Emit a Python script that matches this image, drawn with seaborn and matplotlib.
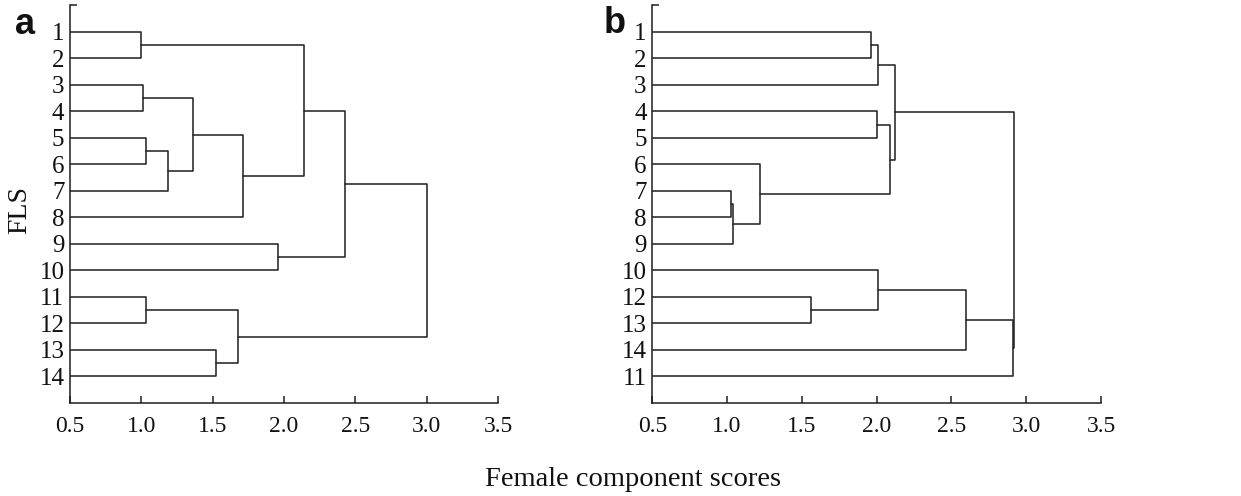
import numpy as np
import pandas as pd
import seaborn as sns
import matplotlib.pyplot as plt

# leaf labels, top to bottom
a_labels = ['1', '2', '3', '4', '5', '6', '7', '8', '9', '10', '11', '12', '13', '14']
b_labels = ['1', '2', '3', '4', '5', '6', '7', '8', '9', '10', '12', '13', '14', '11']

# merges: (child 1, child 2, height); leaves are 0..13, merge k is node 14+k
a_left = [0, 2, 4, 16, 15, 18, 14, 8, 20, 10, 12, 23, 22]
a_right = [1, 3, 5, 6, 17, 7, 19, 9, 21, 11, 13, 24, 25]
a_height = [1.00, 1.01, 1.03, 1.19, 1.36, 1.71, 2.14, 1.955, 2.43, 1.03, 1.52, 1.68, 3.00]

b_left = [0, 14, 3, 6, 17, 5, 16, 15, 10, 9, 23, 24, 21]
b_right = [1, 2, 4, 7, 8, 18, 19, 20, 11, 22, 12, 13, 25]
b_height = [1.96, 2.01, 2.00, 1.025, 1.04, 1.22, 2.09, 2.12, 1.56, 2.01, 2.60, 2.91, 2.92]

x_ticks = [0.5, 1.0, 1.5, 2.0, 2.5, 3.0, 3.5]
leaf_x = 0.5


def dendro_frame(n, left, right, height):
    # position of every node: (x = height, y = row)
    pos_x = {i: leaf_x for i in range(n)}
    pos_y = {i: i + 1.0 for i in range(n)}
    rows = []
    for k, (c1, c2, h) in enumerate(zip(left, right, height)):
        pts = [(pos_x[c1], pos_y[c1]), (h, pos_y[c1]), (h, pos_y[c2]), (pos_x[c2], pos_y[c2])]
        for j, (x, y) in enumerate(pts):
            rows.append({'seg': k, 'order': j, 'x': x, 'y': y})
        pos_x[n + k] = h
        pos_y[n + k] = (pos_y[c1] + pos_y[c2]) / 2
    return pd.DataFrame(rows)


sns.set_theme(style='ticks')
plt.rcParams['font.family'] = ['Liberation Serif', 'DejaVu Serif']

fig = plt.figure(figsize=(12.41, 4.96), dpi=100)
ax_a = fig.add_axes([0.0564, 0.1875, 0.3449, 0.8015])
ax_b = fig.add_axes([0.5256, 0.1875, 0.3616, 0.8015])

line_col = '#1e1e1e'
for ax, labels, left, right, height in [(ax_a, a_labels, a_left, a_right, a_height),
                                         (ax_b, b_labels, b_left, b_right, b_height)]:
    df = dendro_frame(len(labels), left, right, height)
    sns.lineplot(data=df, x='x', y='y', units='seg', estimator=None, sort=False,
                 color=line_col, linewidth=1.1, ax=ax)
    ax.set_xlim(0.5, 3.5)
    ax.set_ylim(15, 0)
    ax.set_xticks(x_ticks)
    ax.set_xticklabels([f'{t:.1f}' for t in x_ticks], fontsize=17)
    ax.set_yticks(range(1, len(labels) + 1))
    ax.set_yticklabels(labels, fontsize=18)
    ax.tick_params(axis='x', direction='in', length=5, width=1.1, pad=9, color=line_col,
                   labelcolor='#111111')
    ax.tick_params(axis='y', length=0, pad=4, labelcolor='#111111')
    ax.set_yticks([0], minor=True)
    ax.tick_params(axis='y', which='minor', direction='in', length=5, width=1.1, color=line_col)
    sns.despine(ax=ax)
    for s in ['left', 'bottom']:
        ax.spines[s].set_linewidth(1.1)
        ax.spines[s].set_color(line_col)
    ax.set_xlabel('')
    ax.set_ylabel('')

ax_a.set_ylabel('FLS', fontsize=20, color='#111111')
ax_a.yaxis.set_label_coords(-0.089, 0.486)

fig.text(0.51, 0.034, 'Female component scores', fontsize=20.5, ha='center', va='center',
         color='#111111')
fig.text(0.020, 0.931, 'a', fontsize=26, fontweight='bold', family='Liberation Sans',
         ha='center', va='baseline', color='#111111')
fig.text(0.4955, 0.933, 'b', fontsize=26, fontweight='bold', family='Liberation Sans',
         ha='center', va='baseline', color='#111111')

fig.savefig('out.png', dpi=100)
